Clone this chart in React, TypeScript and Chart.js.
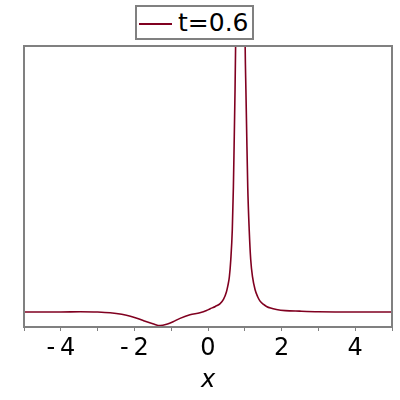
import React, { useEffect, useRef } from "react";
import { Chart, registerables } from "chart.js";

Chart.register(...registerables);

const xValues = [-5, -4, -3.47, -3, -2.66, -2.11, -1.76, -1.5, -1.3, -1.1, -0.95, -0.76, -0.49, -0.22, -0.04, 0.05, 0.2, 0.33, 0.42, 0.5, 0.54, 0.58, 0.62, 0.66, 0.69, 0.71, 0.73, 0.75, 0.8, 0.88, 0.95, 1.01, 1.03, 1.05, 1.08, 1.12, 1.16, 1.21, 1.28, 1.35, 1.41, 1.5, 1.59, 1.7, 1.86, 2.1, 2.49, 3, 4, 5];
const yValues = [0, 0, 0.01, 0, -0.03, -0.15, -0.31, -0.42, -0.49, -0.43, -0.35, -0.23, -0.1, -0.03, 0.05, 0.11, 0.2, 0.3, 0.45, 0.72, 0.95, 1.26, 1.9, 2.95, 4.5, 6.0, 7.6, 9.55, 20, 40, 20, 9.55, 8.0, 6.55, 4.5, 2.95, 1.9, 1.26, 0.8, 0.55, 0.4, 0.28, 0.2, 0.14, 0.09, 0.05, 0.03, 0.01, 0, 0];
const seriesLabel = "t=0.6";
const tickLabels: Record<number, string> = { [-4]: "-\u20094", [-2]: "-\u20092", 0: "0", 2: "2", 4: "4" };
const axisTitle = "x";

const LINE_COLOR = "#800020";
const FRAME_COLOR = "#808080";

const framePlugin = {
  id: "frame",
  afterDatasetsDraw(chart: any) {
    const { ctx, chartArea } = chart;
    ctx.save();
    ctx.strokeStyle = FRAME_COLOR;
    ctx.lineWidth = 2;
    ctx.strokeRect(chartArea.left, chartArea.top, chartArea.right - chartArea.left, chartArea.bottom - chartArea.top);
    ctx.restore();
  },
};

export default function App() {
  const ref = useRef<HTMLCanvasElement>(null);
  useEffect(() => {
    const chart = new Chart(ref.current!, {
      type: "line",
      data: {
        datasets: [
          {
            label: seriesLabel,
            data: xValues.map((x, i) => ({ x, y: yValues[i] })),
            borderColor: LINE_COLOR,
            borderWidth: 1.6,
            pointRadius: 0,
            cubicInterpolationMode: "monotone",
            fill: false,
          },
        ],
      },
      options: {
        animation: false,
        responsive: false,
        layout: { padding: { left: 24, right: 8, top: 46, bottom: 0 } },
        plugins: { legend: { display: false }, tooltip: { enabled: false } },
        scales: {
          x: {
            type: "linear",
            min: -5,
            max: 5,
            afterFit(scale: any) {
              scale.height = 73;
            },
            border: { display: false },
            grid: {
              drawOnChartArea: false,
              drawTicks: true,
              tickLength: 4,
              tickColor: FRAME_COLOR,
              tickWidth: 1,
            },
            ticks: {
              stepSize: 1,
              autoSkip: false,
              maxRotation: 0,
              padding: 3,
              color: "#000",
              font: { family: "DejaVu Sans", size: 24 },
              callback: (v: any) => (tickLabels[v as number] ?? ""),
            },
            title: {
              display: true,
              text: axisTitle,
              color: "#000",
              font: { family: "DejaVu Sans", size: 24, style: "italic" },
              padding: { top: 0, bottom: 5 },
            },
          },
          y: {
            display: false,
            min: -0.54,
            max: 9.57,
          },
        },
      },
      plugins: [framePlugin],
    });
    return () => chart.destroy();
  }, []);

  return (
    <div style={{ position: "absolute", left: 0, top: 0, width: 400, height: 400, background: "#fff" }}>
      <canvas ref={ref} width={400} height={400} style={{ width: 400, height: 400 }} />
      <div
        style={{
          position: "absolute",
          left: 135,
          top: 5,
          width: 119,
          height: 35,
          boxSizing: "border-box",
          border: `2px solid ${FRAME_COLOR}`,
          background: "#fff",
          fontFamily: "DejaVu Sans",
          fontSize: 25,
          color: "#000",
        }}
      >
        <div style={{ position: "absolute", left: 2, top: 16, width: 33, height: 2, background: LINE_COLOR }} />
        <div style={{ position: "absolute", left: 41, top: 0, lineHeight: "31px", whiteSpace: "nowrap" }}>{seriesLabel}</div>
      </div>
    </div>
  );
}
